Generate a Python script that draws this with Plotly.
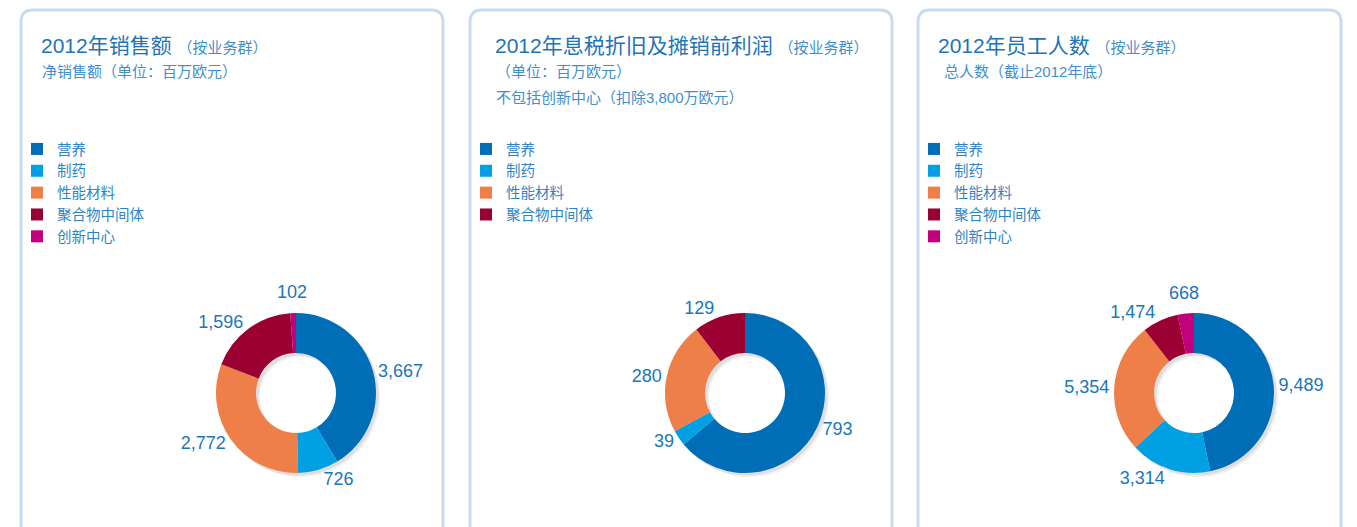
import math
import plotly.graph_objects as go

W, H = 1357, 527

segments = ["营养", "制药", "性能材料", "聚合物中间体", "创新中心"]
colors = ["#006db7", "#00a0e3", "#ef7f48", "#9b0033", "#c2007b"]

sales_values = [3667, 726, 2772, 1596, 102]
ebitda_segments = ["营养", "制药", "性能材料", "聚合物中间体"]
ebitda_values = [793, 39, 280, 129]
staff_values = [9489, 3314, 5354, 1474, 668]

titles = ["2012年销售额", "2012年息税折旧及摊销前利润", "2012年员工人数"]
title_suffix = "（按业务群）"
subtitles = [
    ["净销售额（单位：百万欧元）"],
    ["（单位：百万欧元）", "不包括创新中心（扣除3,800万欧元）"],
    ["总人数（截止2012年底）"],
]

FONT = "Liberation Sans, Arial, Noto Sans CJK SC, sans-serif"
TITLE_C = "#1c74b9"
SUB_C = "#3f8fcd"
LEG_C = "#2f84c6"
LABEL_C = "#1a76bd"

def px(x):
    return x / W

def py(y):
    return 1 - y / H

panels = [(21, 443), (470, 892), (918, 1341)]
centers = [296, 745, 1194]
cy = 393
R = 80

fig = go.Figure()
annotations = []

def add_donut(cx, labels, values, legend, group, tiny_last):
    # soft drop shadow rings
    for off, alpha in [(4, 0.07), (2.5, 0.10)]:
        fig.add_trace(go.Pie(
            values=[1], labels=["s"], hole=0.5, sort=False,
            marker=dict(colors=[f"rgba(60,60,60,{alpha})"], line=dict(width=0)),
            textinfo="none", hoverinfo="skip", showlegend=False,
            domain=dict(x=[px(cx - R + off), px(cx + R + off)],
                        y=[py(cy + R + off), py(cy - R + off)]),
        ))
    templates = ["%{value:,}"] * len(values)
    if tiny_last:
        templates[-1] = ""
    fig.add_trace(go.Pie(
        labels=labels, values=values, hole=0.5, sort=False,
        direction="clockwise", rotation=0,
        marker=dict(colors=colors[:len(values)], line=dict(width=0)),
        textposition="outside", texttemplate=templates,
        textfont=dict(size=18, color=LABEL_C, family=FONT),
        domain=dict(x=[px(cx - R), px(cx + R)], y=[py(cy + R), py(cy - R)]),
        legend=legend, legendgroup=group, showlegend=True,
    ))
    if tiny_last:
        # label of the thin last slice, placed at its mid-angle (no leader line)
        total = sum(values)
        mid = (total - values[-1] / 2) / total * 2 * math.pi
        rl = R + 21
        annotations.append(dict(
            xref="paper", yref="paper",
            x=px(cx + rl * math.sin(mid)), y=py(cy - rl * math.cos(mid)),
            xanchor="center", yanchor="middle", showarrow=False,
            text=f"{values[-1]:,}", font=dict(size=18, color=LABEL_C, family=FONT),
        ))

add_donut(centers[0], segments, sales_values, "legend", "g1", True)
add_donut(centers[1], ebitda_segments, ebitda_values, "legend2", "g2", False)
add_donut(centers[2], segments, staff_values, "legend3", "g3", True)

# rounded panel borders
shapes = []
rr = 12
for x0, x1 in panels:
    y0, y1 = 10, 560
    path = (f"M {px(x0)},{py(y0 + rr)} Q {px(x0)},{py(y0)} {px(x0 + rr)},{py(y0)} "
            f"L {px(x1 - rr)},{py(y0)} Q {px(x1)},{py(y0)} {px(x1)},{py(y0 + rr)} "
            f"L {px(x1)},{py(y1)} L {px(x0)},{py(y1)} Z")
    shapes.append(dict(type="path", xref="paper", yref="paper", path=path,
                       line=dict(color="#c8dcf0", width=3), fillcolor="rgba(0,0,0,0)",
                       layer="below"))

title_x = [39, 493, 936]
sub_x = [40, 494, 942]
for i in range(3):
    annotations.append(dict(
        xref="paper", yref="paper", x=px(title_x[i]), y=py(45), xanchor="left", yanchor="middle",
        showarrow=False,
        text=f"{titles[i]} <span style='font-size:15px;color:{SUB_C}'>{title_suffix}</span>",
        font=dict(size=21, color=TITLE_C, family=FONT),
    ))
    for j, s in enumerate(subtitles[i]):
        annotations.append(dict(
            xref="paper", yref="paper", x=px(sub_x[i]), y=py(72 + 25 * j), xanchor="left",
            yanchor="middle", showarrow=False, text=s,
            font=dict(size=15, color=SUB_C, family=FONT),
        ))

leg_common = dict(
    xanchor="left", yanchor="top", bgcolor="rgba(0,0,0,0)", borderwidth=0,
    font=dict(size=14.5, color=LEG_C, family=FONT), traceorder="normal",
)
leg_x = [17, 466, 914]
legends = {}
for i, name in enumerate(["legend", "legend2", "legend3"]):
    legends[name] = dict(x=px(leg_x[i]), y=py(133), **leg_common)

fig.update_layout(
    width=W, height=H,
    margin=dict(l=0, r=0, t=0, b=0),
    paper_bgcolor="white", plot_bgcolor="white",
    shapes=shapes, annotations=annotations,
    **legends,
)

fig.write_html("out.html", config={"displayModeBar": False},
               post_script="document.body.style.margin='0';")
